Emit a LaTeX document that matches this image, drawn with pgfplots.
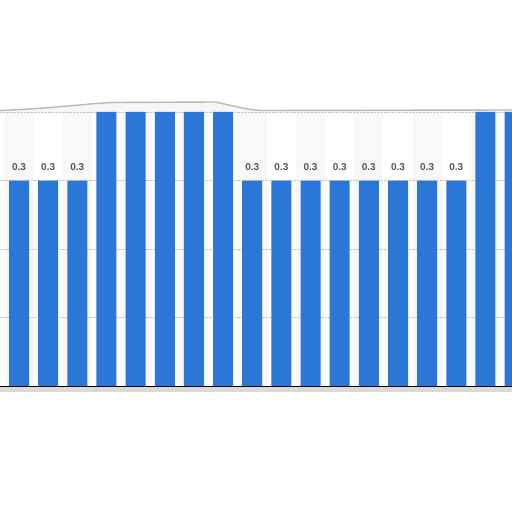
\documentclass[border=0pt]{standalone}
\usepackage{fontspec}
\setmainfont{Liberation Sans}
\usepackage{pgfplots}
\pgfplotsset{compat=1.18}
\definecolor{barblue}{RGB}{42,119,216}
\definecolor{bandgray}{RGB}{248,248,248}
\definecolor{labelgray}{RGB}{85,85,85}

\begin{document}
\begin{tikzpicture}[x=1pt,y=1pt]
% torn-edge shadow above the plot
\fill[gray!7] (0,274) -- (0,275.5) .. controls (60,278) and (90,283) .. (115,283.5)
  -- (215,284) .. controls (235,280) and (245,276.5) .. (262,275.5) -- (512,276) -- (512,274) -- cycle;
\draw[gray!55,line width=1.4pt] (0,275.5) .. controls (60,278) and (90,283) .. (115,283.5)
  -- (215,284) .. controls (235,280) and (245,276.5) .. (262,275.5) -- (512,276);
% shadow under the baseline
\fill[gray!30] (0,-5.5) rectangle (512,-0.5);
\begin{axis}[
    scale only axis,
    width=512pt, height=274pt,
    set layers,
    xmin=-0.652, xmax=16.91,
    ymin=0, ymax=0.4,
    axis line style={draw=none},
    xtick=\empty,
    ytick={0.1,0.2,0.3,0.4},
    yticklabels={},
    major tick length=0pt,
    ymajorgrids=true,
    grid style={densely dotted,gray!45,line width=0.5pt},
    ybar, bar width=0.686, bar shift=0pt,
    /pgf/number format/assume math mode=true,
]
\begin{pgfonlayer}{axis background}
\fill[bandgray] (axis cs:-0.5,0) rectangle (axis cs:0.5,0.4);
\fill[bandgray] (axis cs:1.5,0) rectangle (axis cs:2.5,0.4);
\fill[bandgray] (axis cs:3.5,0) rectangle (axis cs:4.5,0.4);
\fill[bandgray] (axis cs:5.5,0) rectangle (axis cs:6.5,0.4);
\fill[bandgray] (axis cs:7.5,0) rectangle (axis cs:8.5,0.4);
\fill[bandgray] (axis cs:9.5,0) rectangle (axis cs:10.5,0.4);
\fill[bandgray] (axis cs:11.5,0) rectangle (axis cs:12.5,0.4);
\fill[bandgray] (axis cs:13.5,0) rectangle (axis cs:14.5,0.4);
\fill[bandgray] (axis cs:15.5,0) rectangle (axis cs:16.5,0.4);
\end{pgfonlayer}
% tall bars (run past the top of the crop)
\addplot[fill=barblue, draw=none] coordinates {
    (3,0.4) (4,0.4) (5,0.4) (6,0.4) (7,0.4) (16,0.4) (17,0.4)
};
% labelled bars
\addplot[fill=barblue, draw=none,
    nodes near coords,
    every node near coord/.append style={anchor=south, inner sep=0pt, yshift=9.3pt,
        text=labelgray, font=\fontsize{10}{11}\selectfont\bfseries},
] coordinates {
    (0,0.3) (1,0.3) (2,0.3) (8,0.3) (9,0.3) (10,0.3) (11,0.3)
    (12,0.3) (13,0.3) (14,0.3) (15,0.3)
};
\end{axis}
\draw[black,line width=0.8pt] (0,0) -- (512,0);
\pgfresetboundingbox
\useasboundingbox (0,-126) rectangle (512,386);
\end{tikzpicture}
\end{document}
